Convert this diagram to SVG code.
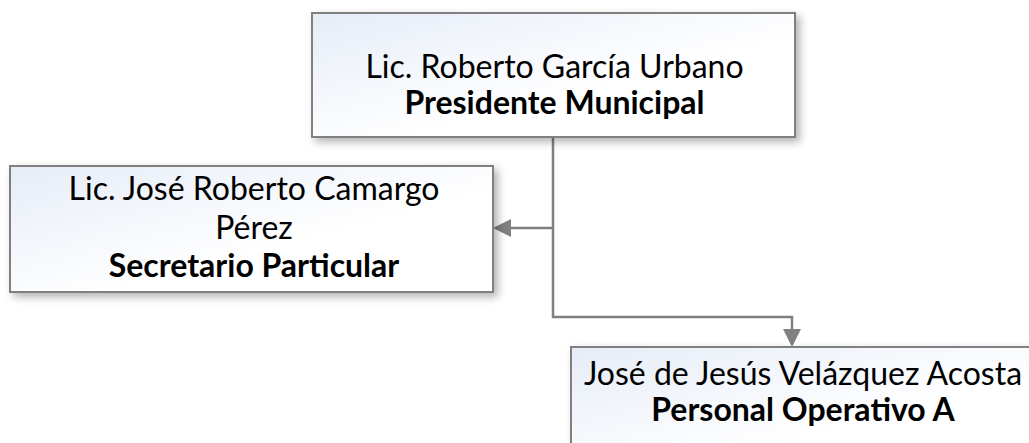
<svg xmlns="http://www.w3.org/2000/svg" width="1029" height="443" viewBox="0 0 1029 443">
<defs>
<linearGradient id="g" x1="0" y1="0" x2="1" y2="1">
<stop offset="0" stop-color="#E6ECF7"/>
<stop offset="0.6" stop-color="#FFFFFF"/>
<stop offset="1" stop-color="#FFFFFF"/>
</linearGradient>
<filter id="sh" x="-10%" y="-10%" width="130%" height="140%">
<feDropShadow dx="4" dy="4" stdDeviation="4" flood-color="#000" flood-opacity="0.3"/>
</filter>
</defs>
<style>
.box{fill:url(#g);stroke:#808080;stroke-width:2;filter:url(#sh)}
.t{font-family:Lato,"Liberation Sans",sans-serif;font-size:32px;fill:#000;text-anchor:middle}
.b{font-weight:bold}
.c{fill:none;stroke:#808080;stroke-width:2.5}
.ah{fill:#808080}
</style>
<g id="connectors">
<path class="c" d="M553,137 V317 H792 V330"/>
<path class="ah" d="M783,329 L801,329 L792,347 z"/>
<path class="c" d="M553,228 H510"/>
<path class="ah" d="M511,219 L511,237 L493,228 z"/>
</g>
<g id="president">
<rect class="box" x="312" y="13" width="483" height="124"/>
<text class="t" x="554.5" y="78">Lic. Roberto García Urbano</text>
<text class="t b" x="554.5" y="114">Presidente Municipal</text>
</g>
<g id="secretario">
<rect class="box" x="10" y="166" width="483" height="126"/>
<text class="t" x="254" y="200">Lic. José Roberto Camargo</text>
<text class="t" x="254" y="239">Pérez</text>
<text class="t b" x="254" y="277">Secretario Particular</text>
</g>
<g id="operativo">
<rect class="box" x="571" y="347" width="483" height="124"/>
<text class="t" x="803" y="385">José de Jesús Velázquez Acosta</text>
<text class="t b" x="803" y="421">Personal Operativo A</text>
</g>
</svg>
